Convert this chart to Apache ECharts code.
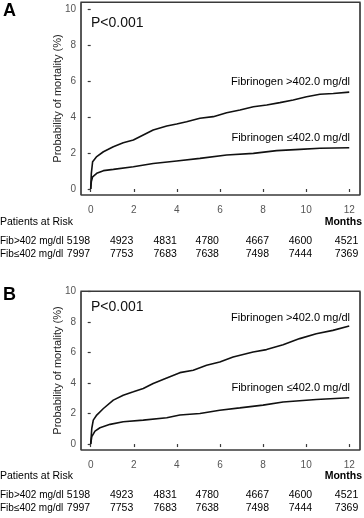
<!DOCTYPE html>
<html><head><meta charset="utf-8">
<script src="https://cdn.jsdelivr.net/npm/echarts@6/dist/echarts.min.js"></script>
<style>html,body{margin:0;padding:0;background:#fff}#c{width:364px;height:518px}</style>
</head><body><div id="c"></div>
<script>
// ---- data ----
const monthTicks = [0, 2, 4, 6, 8, 10, 12];
const yTicks = [0, 2, 4, 6, 8, 10];
// Panel A (months, probability %)
const aHighMonths = [0, 0.03, 0.09, 0.28, 0.59, 1.05, 1.51, 1.98, 2.44, 2.9, 3.53, 3.99, 4.45, 5.07, 5.69, 6.31, 6.93, 7.55, 8.17, 8.78, 9.4, 10.02, 10.64, 11.26, 12];
const aHighValues = [0, 0.87, 1.52, 1.8, 2.07, 2.35, 2.57, 2.72, 3.0, 3.28, 3.5, 3.61, 3.74, 3.93, 4.02, 4.24, 4.39, 4.57, 4.67, 4.8, 4.94, 5.13, 5.26, 5.31, 5.38];
const aLowMonths = [0, 0.03, 0.09, 0.28, 0.59, 1.05, 1.98, 2.9, 3.99, 5.07, 6.31, 7.55, 8.63, 9.71, 10.64, 12];
const aLowValues = [0, 0.41, 0.68, 0.87, 1.02, 1.09, 1.24, 1.42, 1.56, 1.7, 1.89, 1.98, 2.13, 2.2, 2.26, 2.29];
// Panel B
const bHighMonths = [0, 0.05, 0.12, 0.28, 0.59, 1.05, 1.51, 1.98, 2.44, 2.9, 3.53, 4.14, 4.76, 5.38, 5.99, 6.61, 7.54, 8.16, 8.93, 9.7, 10.47, 11.24, 12];
const bHighValues = [0, 1.02, 1.57, 1.9, 2.33, 2.88, 3.2, 3.42, 3.64, 3.97, 4.33, 4.68, 4.84, 5.16, 5.38, 5.71, 6.03, 6.19, 6.51, 6.91, 7.23, 7.45, 7.73];
const bLowMonths = [0, 0.05, 0.2, 0.43, 0.9, 1.51, 2.44, 3.53, 4.14, 5.07, 5.99, 6.92, 8.0, 8.93, 10.47, 12];
const bLowValues = [0, 0.48, 0.85, 1.07, 1.29, 1.46, 1.57, 1.72, 1.9, 2.0, 2.22, 2.37, 2.55, 2.76, 2.92, 3.03];
// Patients at risk (same in both panels)
const riskHigh = [5198, 4923, 4831, 4780, 4667, 4600, 4521];
const riskLow = [7997, 7753, 7683, 7638, 7498, 7444, 7369];
const riskHighLabel = 'Fib>402 mg/dl';
const riskLowLabel = 'Fib\u2264402 mg/dl';
const highLabel = 'Fibrinogen >402.0 mg/dl';
const lowLabel = 'Fibrinogen \u2264402.0 mg/dl';
const pText = 'P<0.001';
const yName = 'Probability of mortality (%)';

// ---- chart ----
const FONT = '"Liberation Sans", Arial, sans-serif';
const zip = (m, v) => m.map((x, i) => [x, v[i]]);
const chart = echarts.init(document.getElementById('c'), null, {renderer: 'canvas'});
const X_MIN = -0.45, X_MAX = 12.5;
const Y_RANGE = [[-0.333, 10.389], [-0.39, 10.03]];
const GRIDS = [
  {left: 81, top: 2, width: 279, height: 193},
  {left: 81, top: 291, width: 279, height: 159}
];
const EDGE = '#3a3a3a';

function xAxis(gi) {
  return {
    type: 'value', gridIndex: gi, min: X_MIN, max: X_MAX, position: 'bottom',
    axisLine: {show: false},
    axisTick: {show: true, length: 3, customValues: monthTicks, lineStyle: {color: EDGE, width: 1.2}},
    axisLabel: {customValues: monthTicks, margin: 10, color: '#555', fontSize: 10, fontFamily: FONT},
    splitLine: {show: false}
  };
}
function yAxis(gi) {
  return {
    type: 'value', gridIndex: gi, min: Y_RANGE[gi][0], max: Y_RANGE[gi][1], position: 'left',
    name: yName, nameLocation: 'middle', nameGap: 18, nameRotate: 90, nameMoveOverlap: false,
    nameTextStyle: {color: '#222', fontSize: 11, fontFamily: FONT},
    axisLine: {show: false},
    axisTick: {show: true, length: 3, customValues: yTicks, lineStyle: {color: EDGE, width: 1.2}},
    axisLabel: {customValues: yTicks, margin: 5, color: '#555', fontSize: 10, fontFamily: FONT},
    splitLine: {show: false}
  };
}
const line = (gi, data) => ({
  type: 'line', xAxisIndex: gi, yAxisIndex: gi, data: data, showSymbol: false,
  lineStyle: {color: '#111', width: 1.6}, animation: false, silent: true
});

chart.setOption({
  animation: false,
  grid: GRIDS.map(gr => Object.assign({show: true, borderColor: EDGE, borderWidth: 1.2, backgroundColor: 'rgba(0,0,0,0)'}, gr)),
  xAxis: [xAxis(0), xAxis(1)],
  yAxis: [yAxis(0), yAxis(1)],
  series: [
    line(0, zip(aHighMonths, aHighValues)),
    line(0, zip(aLowMonths, aLowValues)),
    line(1, zip(bHighMonths, bHighValues)),
    line(1, zip(bLowMonths, bLowValues))
  ]
});

// ---- frames & texts ----
const txt = (x, y, s, o) => ({
  type: 'text', x: x, y: y,
  style: Object.assign({text: s, fill: '#000', font: '11px ' + FONT, textVerticalAlign: 'middle'}, o || {})
});
const seg = (x1, y1, x2, y2) => ({
  type: 'line', z: 50, silent: true,
  shape: {x1: x1, y1: y1, x2: x2, y2: y2},
  style: {stroke: EDGE, lineWidth: 1.2}
});
const colOffset = [-0.5, -0.5, 0, -1, 6, 6, 9];
const g = [];
GRIDS.forEach(gr => {
  const l = gr.left, t = gr.top + 0.5, r = gr.left + gr.width, b = gr.top + gr.height;
  g.push(seg(l, t, r, t), seg(r, t, r, b), seg(l, b, r, b), seg(l, t, l, b));
});
function panel(label, top, pY, hiY, loY, tableY) {
  g.push(txt(3, top, label, {font: 'bold 18px ' + FONT}));
  g.push(txt(91, pY, pText, {font: '14px ' + FONT, fill: '#111'}));
  g.push(txt(350, hiY, highLabel, {textAlign: 'right'}));
  g.push(txt(350, loY, lowLabel, {textAlign: 'right'}));
  const tf = '10px ' + FONT;
  g.push(txt(0, tableY, 'Patients at Risk', {font: '10.5px ' + FONT}));
  g.push(txt(362, tableY, 'Months', {textAlign: 'right', font: 'bold 10.5px ' + FONT}));
  g.push(txt(0, tableY + 19, riskHighLabel, {font: tf}));
  g.push(txt(0, tableY + 32, riskLowLabel, {font: tf}));
  monthTicks.forEach((m, i) => {
    const x = chart.convertToPixel({xAxisIndex: 0}, m) + colOffset[i];
    g.push(txt(x, tableY + 19, String(riskHigh[i]), {textAlign: 'right', font: '10.5px ' + FONT}));
    g.push(txt(x, tableY + 32, String(riskLow[i]), {textAlign: 'right', font: '10.5px ' + FONT}));
  });
}
panel('A', 11, 23, 82, 138, 222);
panel('B', 295, 307, 318, 388, 476);
chart.setOption({graphic: g});
</script></body></html>
